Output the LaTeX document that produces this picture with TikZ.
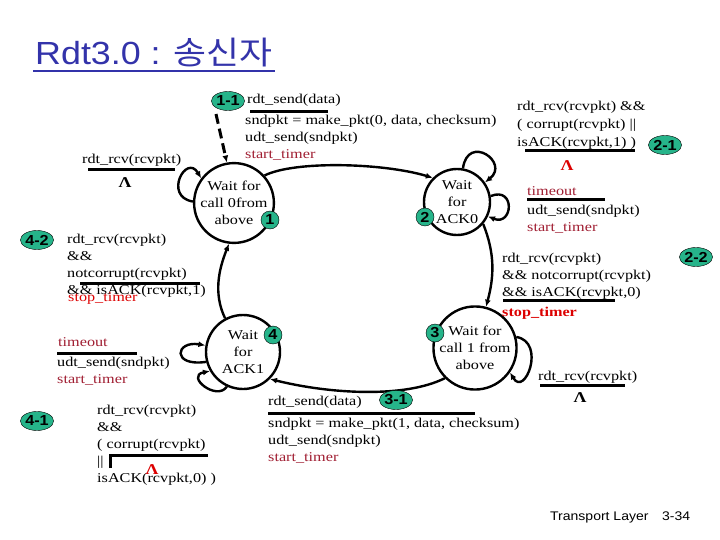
\documentclass[tikz,border=0pt]{standalone}
\usepackage{fontspec}
\setmainfont[FakeStretch=1.2]{Liberation Serif}
\newfontfamily\headfont[FakeStretch=1.12]{Liberation Sans}
\newfontfamily\cjkfont[FakeStretch=1.12]{Noto Sans CJK KR}
\usetikzlibrary{positioning, arrows.meta, shapes.geometric, calc}
\definecolor{titleblue}{RGB}{51,51,170}
\definecolor{badgegreen}{RGB}{38,180,138}
\definecolor{timerred}{RGB}{160,30,50}
\definecolor{stopred}{RGB}{220,0,0}

\begin{document}
\begin{tikzpicture}[
    x=1pt, y=-1pt,
    state/.style = {draw, circle, line width=2.4pt, inner sep=0pt, align=center, font=\fontsize{13.5}{17}\selectfont},
    badge/.style = {draw, fill=badgegreen, inner sep=0pt, font=\headfont\bfseries\fontsize{14.5}{14.5}\selectfont},
    badge_one/.style = {badge, circle, minimum size=18pt},
    badge_two/.style = {badge, ellipse, minimum width=31pt, minimum height=19pt},
    lbl/.style = {anchor=north west, inner sep=0pt, align=left, font=\fontsize{13.5}{17}\selectfont},
    timer_lbl/.style = {lbl, text=timerred},
    lam/.style = {inner sep=0pt, font=\bfseries\fontsize{15}{15}\selectfont},
    bar/.style = {line width=3pt},
    edge/.style = {-{Latex[length=7pt, width=6pt]}, line width=2.4pt}
]
\useasboundingbox (0,0) rectangle (720,540);

% --- Title and footer ---
\node[anchor=base west, inner sep=0pt, text=titleblue, font=\headfont\fontsize{32}{32}\selectfont] (title) at (35,65) {Rdt3.0 : {\cjkfont 송신자}};
\draw[titleblue, line width=2.2pt] ($(title.base west)+(-2,6)$) -- ($(title.base east)+(2,6)$);
\node[anchor=base west, inner sep=0pt, font=\headfont\fontsize{12.5}{12.5}\selectfont] (footer) at (550,520) {Transport Layer};
\node[anchor=base west, inner sep=0pt, font=\headfont\fontsize{12.5}{12.5}\selectfont] (pagenum) at (662,520) {3-34};

% --- States ---
\node[state, minimum size=76pt] (s0) at (234,203) {Wait for\\call 0from\\above};
\node[state, minimum size=66pt] (s1) at (457,202) {Wait\\for\\ACK0};
\node[state, minimum size=72pt] (s2) at (475,348) {Wait for\\call 1 from\\above};
\node[state, minimum size=74pt] (s3) at (243,352) {Wait\\for\\ACK1};

% --- Transitions ---
\coordinate (init) at (216,114);
\draw[edge, line width=3pt, dash pattern=on 10pt off 5pt] (init) -- (s0.100);
\draw[edge] (s0.178) .. controls +(-30,-5) and +(-15,-25) .. (s0.143);
\draw[edge] (s0.42) .. controls +(30,-15) and +(-50,-15) .. (s1.135);
\draw[edge] (s1.80) .. controls +(5,-35) and +(25,-20) .. (s1.35);
\draw[edge] (s1.10) .. controls +(25,-10) and +(25,10) .. (s1.-25);
\draw[edge] (s1.-40) .. controls +(12,30) and +(8,-30) .. (s2.75);
\draw[edge] (s2.15) .. controls +(30,5) and +(15,25) .. (s2.-35);
\draw[edge] (s2.-135) .. controls +(-40,20) and +(60,15) .. (s3.-45);
\draw[edge] (s3.-165) .. controls +(-35,5) and +(-30,-5) .. (s3.170);
\draw[edge] (s3.-115) .. controls +(-10,15) and +(-25,5) .. (s3.-150);
\draw[edge] (s3.118) .. controls +(-12,-25) and +(-10,25) .. (s0.-97);

% --- Step badges ---
\node[badge_two] (b11) at (228,101) {1-1};
\node[badge_one] (b1) at (270,220) {1};
\node[badge_one] (b2) at (425,217) {2};
\node[badge_two] (b21) at (665,145) {2-1};
\node[badge_two] (b22) at (696,257) {2-2};
\node[badge_one] (b3) at (435,333) {3};
\node[badge_two] (b31) at (396,400) {3-1};
\node[badge_one] (b4) at (273,335) {4};
\node[badge_two] (b42) at (37,240) {4-2};
\node[badge_two] (b41) at (37,421) {4-1};

% --- Labels: send packet 0 ---
\node[lbl] (send0) at (247,93.5) {rdt\_send(data)};
\draw[bar] (250,112) -- (328,112);
\node[lbl] (act0) at (245,114.5) {sndpkt = make\_pkt(0, data, checksum)\\udt\_send(sndpkt)\\\textcolor{timerred}{start\_timer}};

% --- Labels: waiting for call 0 ---
\node[lbl] (rcv0) at (82,153.5) {rdt\_rcv(rcvpkt)};
\draw[bar] (88,170) -- (175,170);
\node[lam] (lam0) at (125,183) {Λ};

% --- Labels: waiting for ACK0 ---
\node[lbl, font=\fontsize{13.5}{18}\selectfont] (nak0) at (517,100.5) {rdt\_rcv(rcvpkt) \&\&\\( corrupt(rcvpkt) ||\\isACK(rcvpkt,1) )};
\draw[bar] (525,151) -- (635,151);
\node[lam, text=stopred] (lam1) at (567,166) {Λ};
\node[timer_lbl] (tout0) at (527,186.5) {timeout};
\draw[bar] (527,200) -- (605,200);
\node[lbl] (resend0) at (527,204.5) {udt\_send(sndpkt)\\\textcolor{timerred}{start\_timer}};
\node[lbl] (ack0) at (502,252.5) {rdt\_rcv(rcvpkt)\\\&\& notcorrupt(rcvpkt)\\\&\& isACK(rcvpkt,0)};
\draw[bar] (503,300) -- (615,300);
\node[lbl, text=stopred, font=\bfseries\fontsize{13.5}{17}\selectfont] (stop0) at (502,306.5) {stop\_timer};

% --- Labels: waiting for call 1 ---
\node[lbl] (rcv2) at (538,370.5) {rdt\_rcv(rcvpkt)};
\draw[bar] (540,385) -- (625,385);
\node[lam] (lam2) at (580,398) {Λ};
\node[lbl] (send1) at (268,395.5) {rdt\_send(data)};
\draw[bar] (268,413) -- (475,413);
\node[lbl] (act1) at (268,417.5) {sndpkt = make\_pkt(1, data, checksum)\\udt\_send(sndpkt)\\\textcolor{timerred}{start\_timer}};

% --- Labels: waiting for ACK1 ---
\node[timer_lbl] (tout1) at (58,337.5) {timeout};
\draw[bar] (57,353) -- (137,353);
\node[lbl] (resend1) at (57,356.5) {udt\_send(sndpkt)\\\textcolor{timerred}{start\_timer}};
\node[lbl] (nak1) at (97,404.5) {rdt\_rcv(rcvpkt)\\\&\&\\( corrupt(rcvpkt)\\||\\isACK(rcvpkt,0) )};
\draw[bar] (110,468) -- (110,455) -- (208,455);
\node[lam, text=stopred] (lam3) at (152,470) {Λ};
\node[lbl] (ack1) at (67,233.5) {rdt\_rcv(rcvpkt)\\\&\&\\notcorrupt(rcvpkt)\\\&\& isACK(rcvpkt,1)};
\draw[bar] (80,283) -- (200,283);
\node[lbl, text=stopred] (stop1) at (68,292) {stop\_timer};

\end{tikzpicture}
\end{document}
